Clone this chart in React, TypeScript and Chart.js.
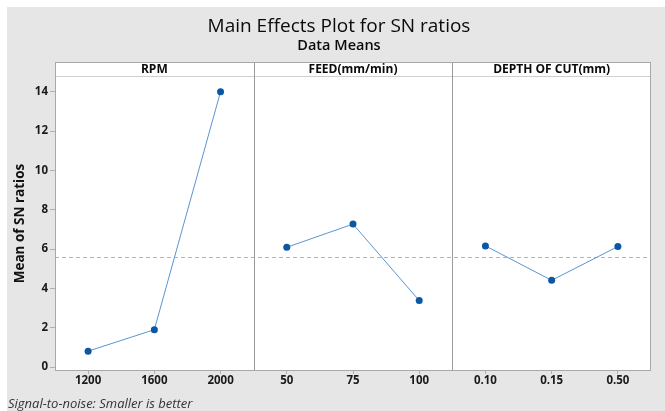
import React, { useEffect, useRef } from "react";
import { Chart, registerables } from "chart.js";

Chart.register(...registerables);

// ---- data ----
const factorNames = ["RPM", "FEED(mm/min)", "DEPTH OF CUT(mm)"];
const rpmLevels = ["1200", "1600", "2000"];
const rpmMeans = [0.81, 1.9, 14.0];
const feedLevels = ["50", "75", "100"];
const feedMeans = [6.09, 7.27, 3.38];
const docLevels = ["0.10", "0.15", "0.50"];
const docMeans = [6.16, 4.41, 6.13];
const yTicks = [0, 2, 4, 6, 8, 10, 12, 14];
const titleText = "Main Effects Plot for SN ratios";
const subtitleText = "Data Means";
const yAxisTitle = "Mean of SN ratios";
const footnoteText = "Signal-to-noise: Smaller is better";

const levelGroups = [rpmLevels, feedLevels, docLevels];
const meanGroups = [rpmMeans, feedMeans, docMeans];
const allLevels = levelGroups.flat();
const allMeans = meanGroups.flat();
const overallMean = allMeans.reduce((a, b) => a + b, 0) / allMeans.length;

const FONT = "'Open Sans', 'Noto Sans', sans-serif";
const LINE_COLOR = "#5a95d3";
const MARKER_COLOR = "#0b57a4";
const FRAME_COLOR = "#a8a8a8";

const decorPlugin = {
  id: "decor",
  beforeDraw(chart: any) {
    const { ctx, chartArea, width, height } = chart;
    const { left, right, top, bottom } = chartArea;
    ctx.save();
    ctx.fillStyle = "#ffffff";
    ctx.fillRect(0, 0, width, height);
    ctx.fillStyle = "#e6e6e6";
    ctx.fillRect(7, 7, width - 7, height - 7);
    // plot + strip background
    const stripTop = top - 14;
    ctx.fillStyle = "#ffffff";
    ctx.fillRect(left, stripTop, right - left, bottom - stripTop);

    // titles
    const cx = 339;
    ctx.fillStyle = "#0a0a0a";
    ctx.textAlign = "center";
    ctx.textBaseline = "alphabetic";
    ctx.font = `500 19px ${FONT}`;
    ctx.fillText(titleText, cx, 32);
    ctx.font = `600 14.5px ${FONT}`;
    ctx.fillText(subtitleText, cx, 50);

    // strip labels
    const xs = chart.scales.x;
    ctx.font = `700 12px ${FONT}`;
    ctx.textBaseline = "middle";
    factorNames.forEach((name, k) => {
      const x0 = xs.getPixelForValue(k * 3 - 0.5);
      const x1 = xs.getPixelForValue(k * 3 + 2.5);
      ctx.fillText(name, (x0 + x1) / 2, stripTop + 7.5);
    });

    // footnote
    ctx.textAlign = "left";
    ctx.textBaseline = "alphabetic";
    ctx.fillStyle = "#333333";
    ctx.font = `italic 400 13px ${FONT}`;
    ctx.fillText(footnoteText, 8, 408);
    ctx.restore();
  },
  beforeDatasetsDraw(chart: any) {
    const { ctx, chartArea } = chart;
    const { left, right, top, bottom } = chartArea;
    const xs = chart.scales.x;
    const ys = chart.scales.y;
    const stripTop = top - 14;
    ctx.save();
    // mean reference line
    const my = Math.round(ys.getPixelForValue(overallMean)) + 0.5;
    ctx.strokeStyle = "#b5b5b5";
    ctx.lineWidth = 1;
    ctx.setLineDash([4, 3]);
    ctx.beginPath();
    ctx.moveTo(left, my);
    ctx.lineTo(right, my);
    ctx.stroke();
    ctx.setLineDash([]);
    // strip bottom line
    ctx.strokeStyle = "#cfcfcf";
    ctx.beginPath();
    ctx.moveTo(left, top + 0.5);
    ctx.lineTo(right, top + 0.5);
    ctx.stroke();
    // panel dividers
    ctx.strokeStyle = "#9a9a9a";
    [2.5, 5.5].forEach((v) => {
      const px = Math.round(xs.getPixelForValue(v)) + 0.5;
      ctx.beginPath();
      ctx.moveTo(px, stripTop);
      ctx.lineTo(px, bottom);
      ctx.stroke();
    });
    // frame
    ctx.strokeStyle = FRAME_COLOR;
    ctx.strokeRect(left + 0.5, stripTop + 0.5, right - left - 1, bottom - stripTop - 1);
    ctx.restore();
  },
};

export default function App() {
  const canvasRef = useRef<HTMLCanvasElement>(null);

  useEffect(() => {
    const canvas = canvasRef.current;
    if (!canvas) return;
    const datasets = meanGroups.map((means, k) => ({
      label: factorNames[k],
      data: means.map((v, i) => ({ x: k * 3 + i, y: v })),
      borderColor: LINE_COLOR,
      borderWidth: 1,
      pointRadius: 3.5,
      pointBackgroundColor: MARKER_COLOR,
      pointBorderColor: MARKER_COLOR,
      pointBorderWidth: 0,
      tension: 0,
      fill: false,
    }));
    const chart = new Chart(canvas, {
      type: "line",
      data: { datasets },
      options: {
        animation: false,
        responsive: false,
        maintainAspectRatio: false,
        layout: { padding: { left: 0, right: 14, top: 76, bottom: 0 } },
        plugins: {
          legend: { display: false },
          tooltip: { enabled: false },
          title: { display: false },
        },
        scales: {
          x: {
            type: "linear",
            min: -0.5,
            max: 8.5,
            afterBuildTicks: (s: any) => {
              s.ticks = allLevels.map((_, i) => ({ value: i }));
            },
            afterFit: (s: any) => {
              s.height = 40;
            },
            ticks: {
              autoSkip: false,
              maxRotation: 0,
              padding: 0,
              color: "#1a1a1a",
              font: { family: FONT, size: 11.5, weight: "bold" },
              callback: (v: any) => allLevels[Math.round(Number(v))] ?? "",
            },
            grid: {
              drawOnChartArea: false,
              drawTicks: true,
              tickLength: 3,
              color: "#b0b0b0",
            },
            border: { display: false },
          },
          y: {
            type: "linear",
            min: -0.2,
            max: 14.8,
            afterBuildTicks: (s: any) => {
              s.ticks = yTicks.map((v) => ({ value: v }));
            },
            afterFit: (s: any) => {
              s.width = 55;
            },
            ticks: {
              padding: 2,
              color: "#1a1a1a",
              font: { family: FONT, size: 11.5, weight: "bold" },
            },
            grid: {
              drawOnChartArea: false,
              drawTicks: true,
              tickLength: 5,
              color: "#b0b0b0",
            },
            border: { display: false },
            title: {
              display: true,
              text: yAxisTitle,
              color: "#111111",
              font: { family: FONT, size: 13.5, weight: "bold" },
              padding: { top: 12, bottom: 0 },
            },
          },
        },
      },
      plugins: [decorPlugin],
    });
    return () => chart.destroy();
  }, []);

  return (
    <div style={{ position: "fixed", left: 0, top: 0, width: 665, height: 411, background: "#fff" }}>
      <canvas ref={canvasRef} width={665} height={411} style={{ display: "block", width: 665, height: 411 }} />
    </div>
  );
}
